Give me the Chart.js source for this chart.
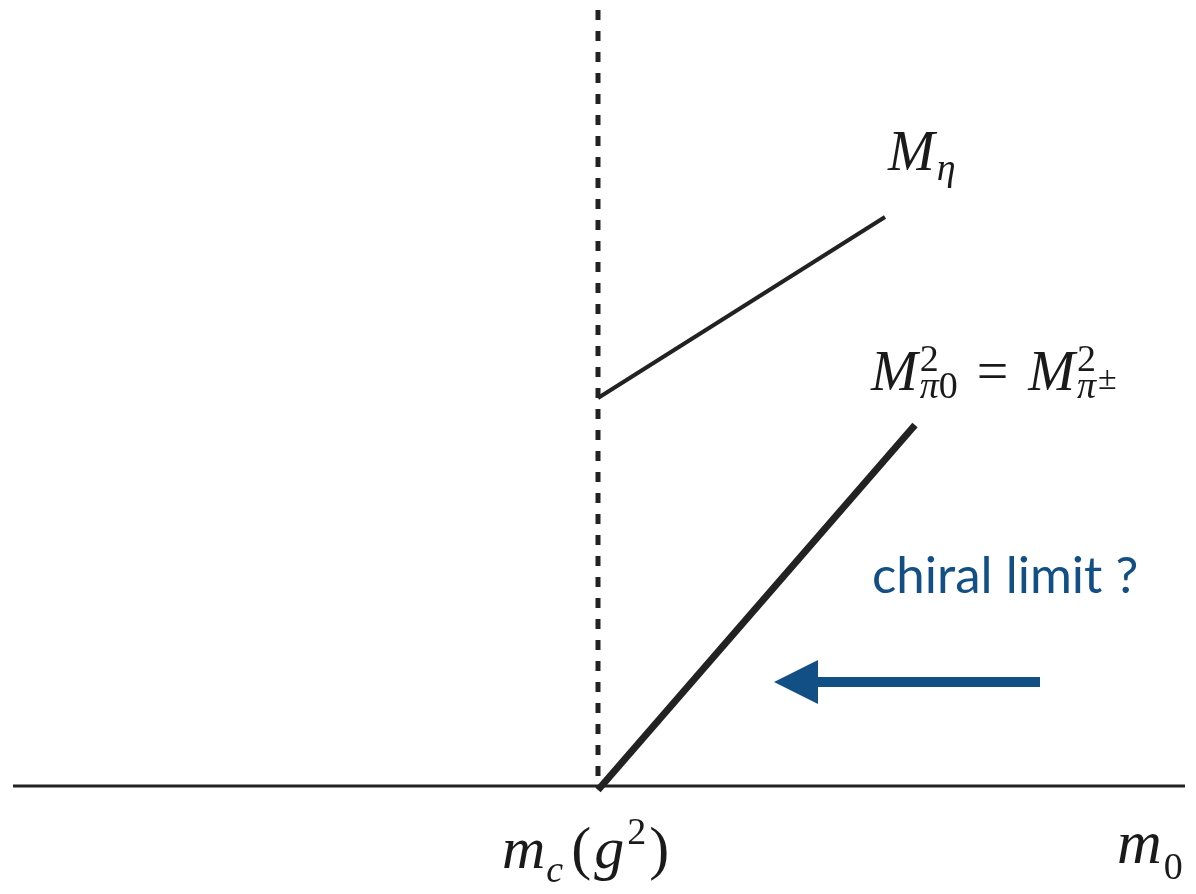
<!DOCTYPE html>
<html>
<head>
<meta charset="utf-8">
<script src="https://cdn.jsdelivr.net/npm/chart.js@4/dist/chart.umd.min.js"></script>
<style>
  html, body { margin: 0; padding: 0; background: #fff; }
  canvas { display: block; }
</style>
</head>
<body>
<canvas id="grafico" width="1196" height="894"></canvas>
<script>
// schematic: x = m0 (with m_c(g^2) at 0), y = mass
const axisX = [-5.85, 5.87];
const mcX = 0;
const dashTop = 7.76;
const etaX = [0, 2.87];
const etaY = [3.88, 5.69];
const piX = [0, 3.17];
const piY = [-0.04, 3.61];
const arrowX = [4.42, 1.76];   // tail, tip
const arrowY = 1.04;

const blue = "#124f85";
const serif = '"Liberation Serif", "DejaVu Serif", serif';

function pts(xs, ys) {
    return xs.map((x, i) => ({x: x, y: Array.isArray(ys) ? ys[i] : ys}));
}

function part(c, x, y, txt, size, italic, dy) {
    c.font = (italic ? "italic " : "") + size + "px " + serif;
    c.fillText(txt, x, y + (dy || 0));
    return x + c.measureText(txt).width;
}

const extras = {
    id: "extras",
    afterDatasetsDraw(chart) {
        const c = chart.ctx;
        const sx = chart.scales.x, sy = chart.scales.y;
        const px = v => sx.getPixelForValue(v);
        const py = v => sy.getPixelForValue(v);
        c.save();

        // arrow head
        const tip = px(arrowX[1]), base = px(arrowX[1] + 0.44);
        const ay = py(arrowY), h = py(arrowY) - py(arrowY + 0.22);
        c.fillStyle = blue;
        c.beginPath();
        c.moveTo(tip, ay);
        c.lineTo(base, ay - h);
        c.lineTo(base, ay + h);
        c.closePath();
        c.fill();

        // chiral limit
        c.fillStyle = blue;
        c.textBaseline = "alphabetic";
        c.font = '51px Lato, "Open Sans", sans-serif';
        c.fillText("chiral limit ?", px(2.74), py(1.93));

        c.fillStyle = "#1a1a1a";
        const B = 56, S = 38;
        // M_eta
        let x = px(2.90), y = py(6.16);
        x = part(c, x, y, "M", B, true, 0);
        part(c, x + 2, y, "η", S, true, 10);

        // M^2_{pi0} = M^2_{pi+-}
        x = px(2.73); y = py(3.96);
        x = part(c, x, y, "M", B, true, 0);
        let a = part(c, x + 2, y, "2", S, false, -19);
        let b = part(c, x + 2, y, "π", S, true, 8);
        b = part(c, b, y, "0", S, false, 8);
        x = Math.max(a, b) + 19;
        x = part(c, x, y, "=", B, false, 0) + 20;
        x = part(c, x, y, "M", B, true, 0);
        a = part(c, x + 2, y, "2", S, false, -19);
        b = part(c, x + 2, y, "π", S, true, 8);
        part(c, b + 2, y, "±", 34, false, -1);

        // m_c(g^2)
        x = px(-0.96); y = py(-0.82);
        x = part(c, x, y, "m", 60, true, 0);
        x = part(c, x + 1, y, "c", S, true, 14);
        x = part(c, x + 8, y, "(", 60, false, 0);
        x = part(c, x + 3, y, "g", 60, true, 0);
        x = part(c, x + 3, y, "2", S, false, -24);
        part(c, x + 3, y, ")", 60, false, 0);

        // m_0
        x = px(5.19); y = py(-0.77);
        x = part(c, x, y, "m", 62, true, 0);
        part(c, x + 2, y, "0", S, false, 16);

        c.restore();
    }
};

new Chart(document.getElementById("grafico"), {
    type: "scatter",
    data: {
        datasets: [
            {data: pts(axisX, 0), borderColor: "#222", borderWidth: 3},
            {data: pts([mcX, mcX], [dashTop, 0]), borderColor: "#222", borderWidth: 5, borderDash: [10, 11]},
            {data: pts(etaX, etaY), borderColor: "#222", borderWidth: 4},
            {data: pts(piX, piY), borderColor: "#222", borderWidth: 7},
            {data: pts([arrowX[0], arrowX[1] + 0.36], arrowY), borderColor: blue, borderWidth: 10}
        ].map(d => Object.assign(d, {showLine: true, pointRadius: 0, fill: false}))
    },
    options: {
        responsive: false,
        animation: false,
        layout: {padding: 0},
        plugins: {legend: {display: false}, tooltip: {enabled: false}},
        scales: {
            x: {type: "linear", min: -5.98, max: 5.98, display: false},
            y: {type: "linear", min: -1.08, max: 7.86, display: false}
        }
    },
    plugins: [extras]
});
</script>
</body>
</html>
